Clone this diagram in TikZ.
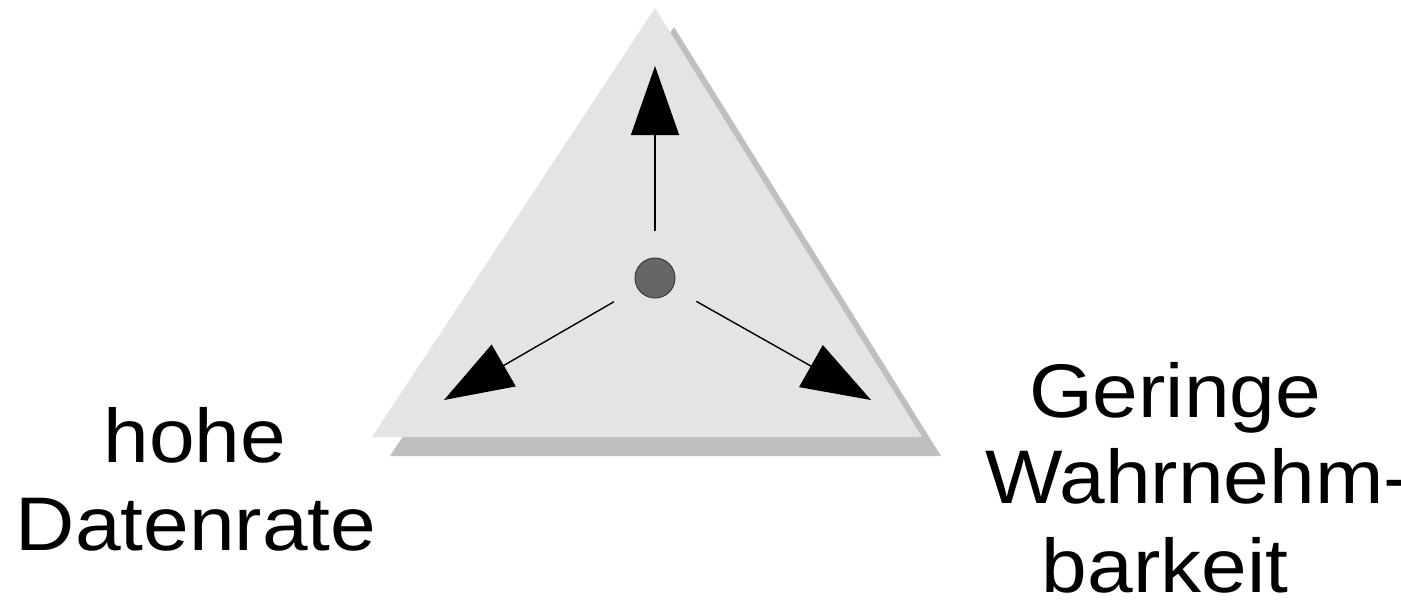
\documentclass[tikz,border=0pt]{standalone}
\usepackage{fontspec}
\newfontfamily\labfont[FakeStretch=1.08]{Liberation Sans}
\usetikzlibrary{arrows.meta}
\definecolor{triface}{HTML}{E4E4E4}
\definecolor{trishadow}{HTML}{BFBFBF}
\definecolor{dotfill}{HTML}{666666}
\definecolor{dotline}{HTML}{3A3A3A}
\tikzset{
  lab/.style={font=\labfont\fontsize{76}{88}\selectfont, anchor=base, inner sep=0pt},
  vec/.style={line width=1.4pt, -{Triangle[length=69pt,width=48pt]}, shorten <=27pt},
}
\begin{document}
\begin{tikzpicture}[x=1pt,y=-1pt]
\useasboundingbox (0,0) rectangle (1401,600);
% shadow and triangle
\fill[trishadow] (674,27) -- (941,456) -- (390,456) -- cycle;
\fill[triface] (655,8) -- (922,437) -- (372,437) -- cycle;
% centre dot
\node[circle, minimum size=40pt, inner sep=0pt, fill=dotfill, draw=dotline, line width=1pt] (c) at (655,278) {};
\coordinate (tU) at (655,66);
\coordinate (tL) at (444,400);
\coordinate (tR) at (871,400);
\draw[vec] (c) -- (tU);
\draw[vec] (c) -- (tL);
\draw[vec] (c) -- (tR);
% labels
\node[lab] (hohe) at (195,462) {hohe};
\node[lab] (daten) at (196,550) {Datenrate};
\node[lab] (ger) at (1175,417) {Geringe};
\node[lab] (wahr) at (1198,503) {Wahrnehm-};
\node[lab] (bark) at (1165,592) {barkeit};
\end{tikzpicture}
\end{document}
